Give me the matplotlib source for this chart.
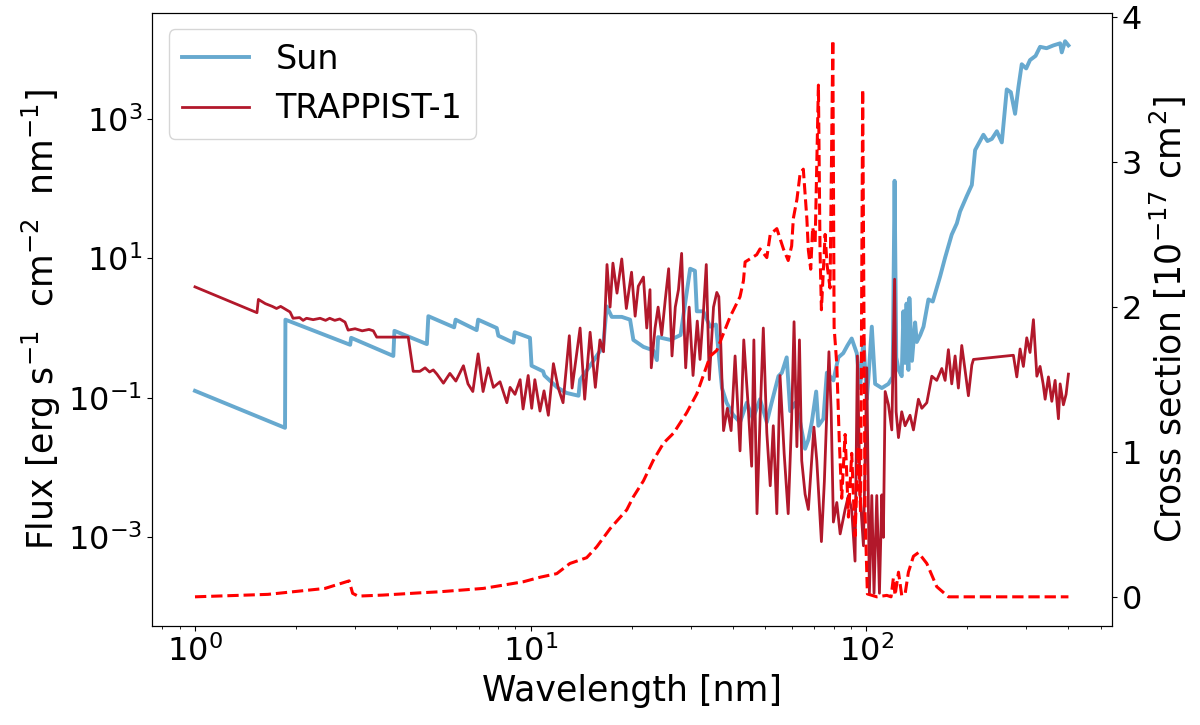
import numpy as np
import matplotlib
matplotlib.use('Agg')
import matplotlib.pyplot as plt
from matplotlib.ticker import NullLocator

# Sun spectrum: wavelength [nm] and log10 of flux
sun_wl = np.array([
    1.0, 1.855, 1.86, 2.90, 2.92, 3.90, 3.93, 4.91, 4.96, 5.92,
    5.98, 6.91, 6.98, 7.93, 8.02, 8.89, 8.97, 9.96, 10.07, 10.9,
    11.0, 12.0, 12.8, 13.9, 14.05, 15.0, 16.0, 16.45, 16.87, 17.46,
    18.7, 19.8, 20.25, 21.7, 23.2, 23.8, 24.0, 26.1, 28.0, 29.9,
    30.9, 31.3, 32.7, 34.3, 35.7, 37.2, 38.4, 40.1, 42.1, 44.1,
    46.0, 48.3, 50.6, 52.3, 54.8, 56.1, 58.0, 59.4, 61.5, 63.6,
    65.8, 67.3, 68.9, 71.0, 72.1, 74.6, 76.4, 79.9, 82.7, 85.5,
    88.0, 90.6, 93.8, 96.0, 98.2, 100.5, 102.0, 104.0, 106.4, 111.4,
    116.6, 120.0, 121.6, 123.0, 125.0, 127.7, 129.2, 130.7, 132.0, 133.7,
    134.6, 137.0, 140.0, 141.6, 145.0, 148.3, 153.4, 158.0, 166.2, 172.0,
    180.0, 186.4, 190.6, 199.5, 206.6, 211.3, 223.7, 230.0, 237.0, 245.3,
    253.8, 262.6, 270.0, 278.0, 284.4, 291.0, 300.0, 308.0, 320.0, 330.0,
    345.0, 361.6, 378.7, 383.0, 391.8, 400.9])
sun_logflux = np.array([
    -0.90, -1.43, 0.12, -0.24, -0.14, -0.40, -0.04, -0.23, 0.17, 0.01,
    0.12, -0.03, 0.12, 0.00, -0.11, -0.21, -0.06, -0.14, -0.54, -0.62,
    -0.68, -0.85, -0.93, -0.97, -0.74, -0.55, -0.35, -0.27, 0.31, 0.16,
    0.16, 0.12, -0.17, -0.27, -0.32, -0.46, -0.13, -0.17, -0.10, 0.85,
    0.82, 0.24, 0.24, 0.02, 0.05, -0.86, -1.07, -1.24, -1.35, -1.07,
    -1.30, -1.02, -1.35, -1.07, -0.69, -0.64, -0.42, -1.19, -1.07, -1.35,
    -1.73, -1.60, -1.35, -0.91, -1.40, -1.30, -0.64, -0.75, -0.42, -0.36,
    -0.25, -0.15, -0.36, -0.86, -0.15, -1.02, -0.60, 0.02, -0.80, -0.86,
    -0.80, -0.70, 2.11, -0.42, -0.60, -0.69, 0.24, -0.50, 0.35, -0.60,
    0.43, -0.47, 0.08, -0.20, -0.10, 0.02, 0.41, 0.38, 0.74, 1.01,
    1.34, 1.50, 1.67, 1.89, 2.05, 2.55, 2.77, 2.68, 2.71, 2.82,
    2.66, 3.42, 3.38, 3.07, 3.45, 3.78, 3.72, 3.84, 3.90, 4.03,
    4.01, 4.05, 4.08, 3.95, 4.11, 4.05])

# TRAPPIST-1 spectrum: wavelength [nm] and log10 of flux
trap_wl = np.array([
    1.00, 1.53, 1.545, 1.62, 1.70, 1.75, 1.80, 1.83, 1.92, 1.96,
    2.05, 2.10, 2.15, 2.25, 2.36, 2.45, 2.52, 2.61, 2.70, 2.80,
    2.86, 3.00, 3.15, 3.30, 3.40, 3.48, 4.32, 4.47, 4.68, 4.85,
    5.00, 5.13, 5.26, 5.50, 5.75, 5.99, 6.31, 6.51, 6.73, 6.98,
    7.22, 7.48, 7.75, 8.11, 8.50, 8.69, 8.99, 9.31, 9.50, 9.84,
    10.08, 10.3, 10.67, 10.97, 11.3, 11.7, 12.08, 12.5, 13.05, 13.3,
    13.7, 14.05, 14.5, 15.05, 15.6, 16.1, 16.5, 16.9, 17.26, 17.6,
    18.1, 18.7, 19.3, 20.0, 20.5, 20.95, 21.7, 22.2, 22.7, 22.9,
    23.5, 24.0, 24.6, 25.2, 25.8, 26.4, 27.0, 27.6, 28.2, 28.6,
    29.0, 29.7, 30.5, 31.4, 32.0, 32.8, 33.4, 34.1, 35.1, 35.9,
    36.4, 36.9, 37.6, 38.6, 39.6, 40.7, 42.1, 43.2, 44.5, 45.6,
    46.3, 47.3, 48.3, 49.4, 50.6, 51.8, 52.9, 54.2, 55.4, 57.0,
    58.6, 60.0, 61.0, 62.2, 63.3, 64.3, 65.8, 67.3, 69.9, 71.3,
    73.6, 75.1, 77.5, 78.7, 79.9, 81.8, 83.7, 86.6, 88.6, 90.6,
    92.7, 94.2, 96.0, 98.2, 100.5, 102.3, 104.0, 105.6, 107.6, 109.6,
    111.4, 112.6, 114.0, 116.6, 119.3, 121.6, 122.9, 124.9, 127.7, 130.7,
    135.2, 138.4, 143.2, 146.6, 151.7, 157.0, 162.4, 168.1, 172.0, 175.9,
    180.0, 184.2, 188.4, 192.8, 197.2, 201.8, 206.6, 208.9, 274.8, 281.3,
    287.7, 294.3, 301.2, 308.0, 315.3, 322.8, 330.0, 337.0, 341.7, 349.5,
    357.7, 365.9, 374.3, 378.7, 387.3, 394.5, 400.9])
trap_logflux = np.array([
    0.59, 0.22, 0.41, 0.35, 0.31, 0.28, 0.31, 0.29, 0.23, 0.14,
    0.15, 0.11, 0.14, 0.12, 0.14, 0.11, 0.14, 0.11, 0.13, 0.085,
    -0.03, -0.01, -0.04, -0.02, -0.04, -0.13, -0.13, -0.62, -0.62, -0.57,
    -0.63, -0.60, -0.66, -0.79, -0.65, -0.76, -0.54, -0.80, -0.91, -0.37,
    -0.91, -0.57, -0.85, -0.77, -1.07, -0.85, -0.95, -0.74, -1.16, -0.68,
    -1.15, -0.74, -1.19, -0.90, -1.25, -0.51, -0.85, -1.07, -0.11, -0.86,
    -0.40, 0.00, -1.02, -0.06, -0.85, -0.17, -0.34, 0.91, 0.30, 0.93,
    0.50, 0.99, 0.28, 0.80, 0.17, 0.60, 0.73, 0.00, 0.55, -0.57,
    0.00, 0.30, -0.10, 0.40, 0.85, -0.40, 0.30, 0.55, 1.07, 0.20,
    -0.57, 0.30, -0.68, 0.10, -0.45, 0.28, 0.91, -0.74, 0.30, 0.51,
    0.45, -0.23, -1.47, -1.15, -1.47, -0.40, -1.76, -0.17, -1.10, -1.98,
    -0.17, -2.66, -1.30, 0.00, -1.50, -2.26, -1.40, -2.66, -0.68, -1.80,
    -2.66, -1.30, 0.09, -1.70, -0.17, -1.90, -2.38, -2.60, -1.42, -1.90,
    -3.06, -2.20, -0.34, -1.20, -2.78, -2.50, -2.95, -2.60, -2.40, -2.60,
    -3.34, -0.40, -2.40, -3.12, -0.57, -3.80, -2.40, -3.80, -2.40, -3.80,
    -2.39, -3.00, -0.91, -1.10, -1.46, 0.70, -1.20, -1.57, -1.20, -1.40,
    -1.25, -1.46, -1.02, -1.15, -1.07, -0.69, -0.75, -0.58, -0.75, -0.31,
    -0.80, -0.40, -0.86, -0.25, -0.60, -0.97, -0.53, -0.45, -0.39, -0.70,
    -0.30, -0.55, -0.14, -0.35, 0.12, -0.69, -0.55, -0.80, -1.02, -0.70,
    -1.05, -0.75, -1.30, -0.80, -1.10, -0.95, -0.66])

# absorption cross section [1e-17 cm^2]
cs_wl = np.array([
    1.0, 1.65, 2.44, 2.88, 2.95, 3.06, 3.63, 4.72, 5.37, 7.23,
    7.97, 9.52, 10.67, 11.97, 13.1, 14.7, 15.75, 17.26, 19.35, 20.25,
    21.7, 23.2, 24.9, 26.7, 29.2, 31.3, 34.3, 35.9, 39.3, 42.1,
    43.1, 43.6, 47.2, 48.3, 50.6, 51.8, 54.2, 56.7, 58.6, 60.0,
    60.7, 62.2, 63.6, 65.0, 66.6, 67.3, 68.4, 69.3, 70.5, 72.1,
    72.9, 73.6, 75.5, 76.5, 78.1, 79.6, 80.3, 81.8, 83.2, 84.6,
    86.6, 88.6, 90.6, 92.7, 94.7, 96.3, 97.7, 99.3, 100.9, 107.6,
    115.3, 118.7, 120.6, 122.0, 124.9, 127.7, 130.7, 133.7, 138.4, 143.2,
    151.7, 162.4, 175.9, 400.9])
cs = np.array([
    0.0, 0.017, 0.058, 0.11, 0.024, 0.005, 0.012, 0.028, 0.035, 0.058,
    0.074, 0.104, 0.135, 0.16, 0.23, 0.27, 0.345, 0.47, 0.60, 0.69,
    0.80, 0.94, 1.06, 1.13, 1.27, 1.40, 1.66, 1.70, 1.93, 2.07,
    2.18, 2.31, 2.36, 2.40, 2.34, 2.50, 2.54, 2.40, 2.32, 2.42,
    2.61, 2.74, 2.92, 2.95, 2.61, 2.39, 2.26, 2.55, 2.44, 3.53,
    2.39, 1.98, 2.50, 2.29, 2.13, 3.84, 1.86, 1.60, 1.08, 0.68,
    1.12, 0.55, 0.99, 0.42, 1.03, 0.58, 3.50, 0.58, 0.02, 0.0,
    0.01, 0.0, 0.13, 0.01, 0.17, 0.01, 0.02, 0.17, 0.28, 0.305,
    0.23, 0.07, 0.0, 0.0])

fig = plt.figure(figsize=(12, 7.25), dpi=100)
ax = fig.add_axes([0.1267, 0.137, 0.8, 0.8456])

ax.plot(sun_wl, 10**sun_logflux, color='#67a9cf', lw=2.8, label='Sun')
ax.plot(trap_wl, 10**trap_logflux, color='#b2182b', lw=2.0, label='TRAPPIST-1')
ax.set_xscale('log')
ax.set_yscale('log')
ax.set_xlim(10**-0.128, 10**2.733)
ax.set_ylim(10**-4.265, 10**4.52)
ax.set_yticks([1e-3, 1e-1, 1e1, 1e3])
ax.yaxis.set_minor_locator(NullLocator())
ax.set_xlabel('Wavelength [nm]', fontsize=25)
ax.set_ylabel(r'Flux [erg s$^{-1}$  cm$^{-2}$  nm$^{-1}$]', fontsize=25)
ax.tick_params(labelsize=23)
ax.legend(loc='upper left', fontsize=24)

ax2 = ax.twinx()
ax2.plot(cs_wl, cs, color='red', ls='--', lw=2.2)
ax2.set_ylim(-0.199, 4.03)
ax2.set_yticks([0, 1, 2, 3, 4])
ax2.set_ylabel(r'Cross section [$10^{-17}$ cm$^2$]', fontsize=25)
ax2.tick_params(labelsize=23)

fig.savefig('out.png', dpi=100)
